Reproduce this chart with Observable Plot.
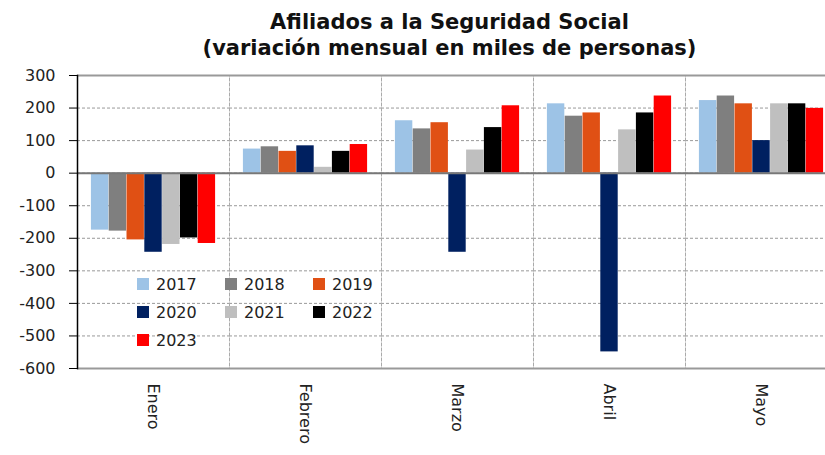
<!DOCTYPE html>
<html>
<head>
<meta charset="utf-8">
<script src="https://cdn.jsdelivr.net/npm/d3@7"></script>
<script src="https://cdn.jsdelivr.net/npm/@observablehq/plot@0.6"></script>
<style>
  body { margin: 0; background: #fff; font-family: "DejaVu Sans", sans-serif; }
  #wrap { position: relative; width: 825px; height: 455px; overflow: hidden; }
  #title { height: 65px; box-sizing: border-box; padding-top: 9px; padding-left: 74px; text-align: center;
           font-weight: bold; font-size: 21px; line-height: 26px; color: #111; }
  #legend { position: absolute; left: 137px; top: 270px; display: grid;
            grid-template-columns: 88px 88px 88px; grid-auto-rows: 28px; font-size: 16px; color: #222; }
  .item { display: flex; align-items: center; }
  .sw { width: 12px; height: 12px; margin-right: 7px; }
</style>
</head>
<body>
<div id="wrap">
  <div id="title">Afiliados a la Seguridad Social<br>(variación mensual en miles de personas)</div>
  <div id="chart"></div>
  <div id="legend"></div>
</div>
<script>
const months = ["Enero", "Febrero", "Marzo", "Abril", "Mayo"];
const years = ["2017", "2018", "2019", "2020", "2021", "2022", "2023"];
const colors = ["#9DC3E6", "#7F7F7F", "#E05014", "#002060", "#BFBFBF", "#000000", "#FF0000"];

const v2017 = [-175, 74, 161, 213, 223];
const v2018 = [-178, 81, 136, 175, 237];
const v2019 = [-205, 67, 155, 185, 213];
const v2020 = [-243, 84, -243, -549, 100];
const v2021 = [-219, 18, 71, 133, 213];
const v2022 = [-199, 67, 140, 185, 213];
const v2023 = [-216, 88, 207, 237, 199];

const yTicks = [300, 200, 100, 0, -100, -200, -300, -400, -500, -600];

const series = [v2017, v2018, v2019, v2020, v2021, v2022, v2023];
const data = years.flatMap((yr, i) => months.map((m, j) => ({month: m, year: yr, value: series[i][j]})));

const chart = Plot.plot({
  width: 825,
  height: 390,
  marginTop: 10,
  marginBottom: 87,
  marginLeft: 77,
  marginRight: -12,
  style: {fontFamily: "DejaVu Sans, sans-serif", fontSize: "16px", color: "#222", background: "transparent"},
  fx: {domain: months, padding: 0, round: false, label: null, axis: null},
  x: {domain: years, padding: 0, paddingInner: 0, paddingOuter: 0.77, align: 0.5, round: false, axis: null},
  y: {domain: [-600, 300], axis: null, label: null},
  color: {domain: years, range: colors},
  marks: [
    Plot.gridY(yTicks, {stroke: "#999", strokeOpacity: 1, strokeDasharray: "3,2"}),
    Plot.frame({stroke: "#aaa", strokeDasharray: "3,2"}),
    Plot.barY(data, {fx: "month", x: "year", y: "value", fill: "year", insetLeft: 0.2, insetRight: 0.2}),
    Plot.ruleY([0], {stroke: "#777", strokeWidth: 2}),
    Plot.ruleY([300, -600], {stroke: "#999", strokeWidth: 2}),
    Plot.frame({anchor: "left", stroke: "#000", strokeWidth: 1.5, facetAnchor: "left"}),
    Plot.axisY(yTicks, {tickSize: 8, tickPadding: 14, tickFormat: d => String(d), stroke: "#000", fontSize: 16, label: null}),
    Plot.axisFx({anchor: "bottom", tickRotate: 90, tickSize: 0, tickPadding: 15, fontSize: 16, label: null})
  ]
});
document.getElementById("chart").appendChild(chart);

const legend = document.getElementById("legend");
years.forEach((yr, i) => {
  const item = document.createElement("div");
  item.className = "item";
  const sw = document.createElement("span");
  sw.className = "sw";
  sw.style.background = colors[i];
  const t = document.createElement("span");
  t.textContent = yr;
  item.appendChild(sw);
  item.appendChild(t);
  legend.appendChild(item);
});
</script>
</body>
</html>
